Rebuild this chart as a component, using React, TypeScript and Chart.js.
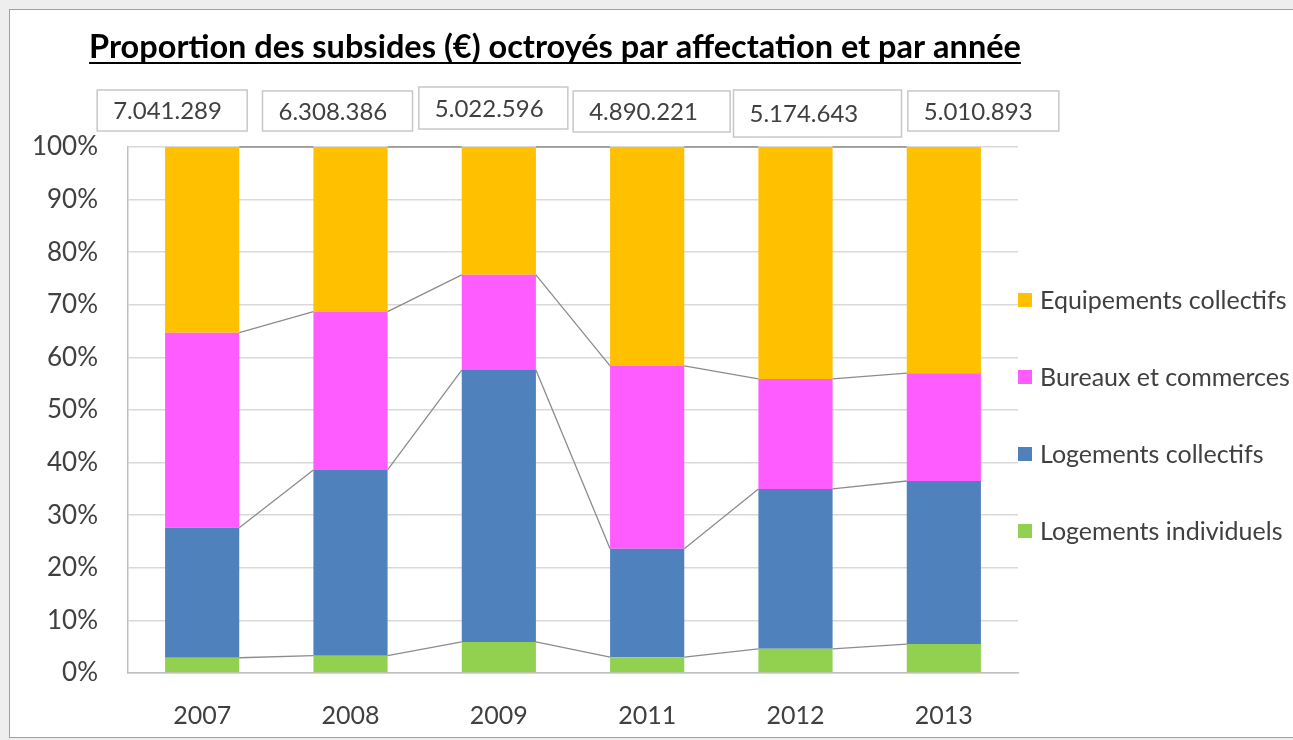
import React, { useEffect, useRef } from "react";
import { Chart, registerables } from "chart.js";

Chart.register(...registerables);

// ---- data ----
const YEARS = ["2007", "2008", "2009", "2011", "2012", "2013"];
const TOTALS = ["7.041.289", "6.308.386", "5.022.596", "4.890.221", "5.174.643", "5.010.893"];
const LOGEMENTS_INDIVIDUELS = [2.9, 3.3, 5.9, 3.0, 4.6, 5.5];
const LOGEMENTS_COLLECTIFS = [24.7, 35.3, 51.7, 20.6, 30.4, 31.0];
const BUREAUX_COMMERCES = [37.1, 30.1, 18.1, 34.8, 20.9, 20.5];
const EQUIPEMENTS_COLLECTIFS = [35.3, 31.3, 24.3, 41.6, 44.1, 43.0];
const SERIES_NAMES = [
  "Logements individuels",
  "Logements collectifs",
  "Bureaux et commerces",
  "Equipements collectifs",
];
const TITLE = "Proportion des subsides (€) octroyés par affectation et par année";

// ---- styles / layout ----
const COLORS = ["#92D050", "#4F81BD", "#FF5CFF", "#FFC000"];
const FONT = "Lato";
const TEXT_COLOR = "#404040";
const BOX_DX = [-105, -88, -80, -74, -62, -36];
const BOX_TOP = [90, 91, 87, 91, 90, 91];
const BOX_W = [150, 150, 149, 157, 168, 151];
const BOX_H = [41, 40, 42, 41, 47, 40];

const overlayPlugin = {
  id: "overlay",
  afterDatasetsDraw(chart: any) {
    const ctx = chart.ctx;
    ctx.save();
    ctx.strokeStyle = "#8C8C8C";
    ctx.lineWidth = 1.3;
    chart.data.datasets.forEach((_: any, di: number) => {
      const meta = chart.getDatasetMeta(di);
      for (let i = 0; i < meta.data.length - 1; i++) {
        const a = meta.data[i];
        const b = meta.data[i + 1];
        ctx.beginPath();
        ctx.moveTo(a.x + a.width / 2, a.y);
        ctx.lineTo(b.x - b.width / 2, b.y);
        ctx.stroke();
      }
    });
    ctx.restore();
  },
  afterDraw(chart: any) {
    const ctx = chart.ctx;
    const area = chart.chartArea;
    const xs = chart.scales.x;
    ctx.save();
    // title
    ctx.font = `bold 32.5px ${FONT}`;
    ctx.fillStyle = "#000000";
    ctx.textAlign = "center";
    ctx.textBaseline = "alphabetic";
    const tx = 555;
    ctx.fillText(TITLE, tx, 58);
    const tw = ctx.measureText(TITLE).width;
    ctx.fillRect(tx - tw / 2, 62, tw, 2);

    // total boxes
    ctx.font = `24px ${FONT}`;
    ctx.textAlign = "left";
    ctx.textBaseline = "middle";
    TOTALS.forEach((t, i) => {
      const left = xs.getPixelForValue(i) + BOX_DX[i];
      ctx.fillStyle = "#FFFFFF";
      ctx.fillRect(left, BOX_TOP[i], BOX_W[i], BOX_H[i]);
      ctx.strokeStyle = "#C8C8C8";
      ctx.lineWidth = 1.5;
      ctx.strokeRect(left, BOX_TOP[i], BOX_W[i], BOX_H[i]);
      ctx.fillStyle = TEXT_COLOR;
      ctx.fillText(t, left + 16, BOX_TOP[i] + BOX_H[i] / 2 + 1);
    });

    // legend (reverse order)
    ctx.font = `25px ${FONT}`;
    const n = chart.data.datasets.length;
    for (let k = 0; k < n; k++) {
      const di = n - 1 - k;
      const ds = chart.data.datasets[di];
      const cy = area.top + 153 + k * 77;
      ctx.fillStyle = ds.backgroundColor;
      ctx.fillRect(area.right, cy - 7, 14, 14);
      ctx.fillStyle = TEXT_COLOR;
      ctx.fillText(ds.label, area.right + 22, cy + 1);
    }
    ctx.restore();
  },
};

export default function App() {
  const canvasRef = useRef<HTMLCanvasElement | null>(null);

  useEffect(() => {
    if (!canvasRef.current) return;
    const seriesValues = [
      LOGEMENTS_INDIVIDUELS,
      LOGEMENTS_COLLECTIFS,
      BUREAUX_COMMERCES,
      EQUIPEMENTS_COLLECTIFS,
    ];
    const chart = new Chart(canvasRef.current, {
      type: "bar",
      data: {
        labels: YEARS,
        datasets: seriesValues.map((vals, i) => ({
          label: SERIES_NAMES[i],
          data: vals,
          backgroundColor: COLORS[i],
          borderWidth: 0,
          barPercentage: 0.5,
          categoryPercentage: 1,
        })),
      },
      options: {
        animation: false,
        responsive: false,
        layout: { padding: { left: 32, right: 275, top: 147, bottom: 9 } },
        plugins: {
          legend: { display: false },
          tooltip: { enabled: false },
          title: { display: false },
        },
        scales: {
          x: {
            stacked: true,
            grid: { display: false, drawTicks: false },
            border: { display: true, color: "#C0C0C0", width: 1.5 },
            ticks: { font: { family: FONT, size: 25 }, color: TEXT_COLOR, padding: 28 },
            afterFit: (s: any) => {
              s.height = 58;
            },
          },
          y: {
            stacked: true,
            min: 0,
            max: 100,
            grid: { color: "#D9D9D9", lineWidth: 1.5, drawTicks: false },
            border: { display: true, color: "#C0C0C0", width: 1.5 },
            ticks: {
              stepSize: 10,
              callback: (v: any) => `${v}%`,
              font: { family: FONT, size: 26 },
              color: TEXT_COLOR,
              padding: 30,
            },
            afterFit: (s: any) => {
              s.width = 96;
            },
          },
        },
      },
      plugins: [overlayPlugin],
    });
    return () => chart.destroy();
  }, []);

  return (
    <div style={{ position: "fixed", left: 0, top: 0, width: 1293, height: 740, background: "#EEEEEE", overflow: "hidden" }}>
      <div
        style={{
          position: "absolute",
          left: 9,
          top: 9,
          width: 1300,
          height: 727,
          background: "#FFFFFF",
          border: "1px solid #A0A0A0",
        }}
      />
      <canvas
        ref={canvasRef}
        width={1293}
        height={740}
        style={{ position: "absolute", left: 0, top: 0, width: 1293, height: 740 }}
      />
    </div>
  );
}
